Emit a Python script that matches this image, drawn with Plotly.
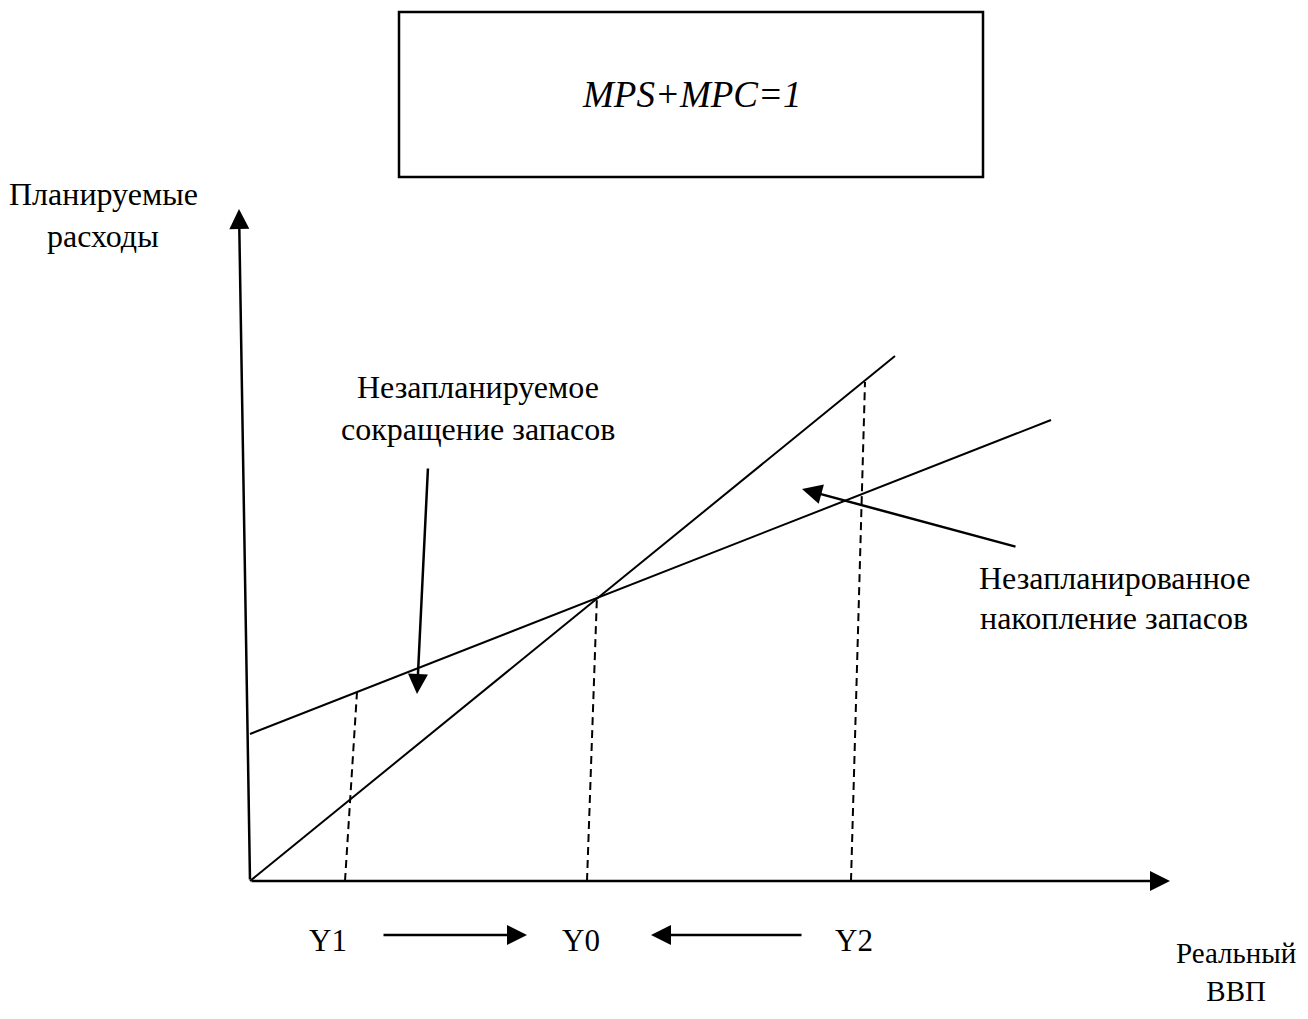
import plotly.graph_objects as go

# ---- diagram data (drawing units = reference pixels, y grows downward) ----
origin = (250, 881)
y_axis_top = (239, 209)
x_axis_end = (1170, 881)

line45_x = [250, 895]
line45_y = [881, 356]

ae_x = [250, 1051]
ae_y = [734, 420]

dash_labels = ["Y1", "Y0", "Y2"]
dash_bottom_x = [345, 587, 851]
dash_top_x = [357, 597, 865]
dash_top_y = [692, 595, 382]

label_x = [328, 581, 854]
label_y = [940, 940, 940]

move_arrows = [((382, 935), (527, 935)), ((803, 935), (651, 935))]
pointer_arrows = [((428, 467), (417, 694)), ((1017, 547), (802, 489))]

box_x = [399, 983]
box_y = [12, 177]
box_text = "MPS+MPC=1"

texts = [
    ("Планируемые", 103, 194),
    ("расходы", 103, 236),
    ("Незапланируемое", 478, 387),
    ("сокращение запасов", 478, 429),
    ("Незапланированное", 1114, 578),
    ("накопление запасов", 1114, 618),
]

x_title = ["Реальный", "ВВП"]
x_title_pos = (1236, 972)

FONT = "Liberation Serif, Times New Roman, serif"
BLACK = "#000000"
PAGE_MARGIN = 8  # default body margin of the html page
PAGE_W, PAGE_H = 1308, 1019

fig = go.Figure()

# 45 degree line and aggregate expenditure line
fig.add_trace(go.Scatter(x=line45_x, y=line45_y, mode="lines",
                         line=dict(color=BLACK, width=2), hoverinfo="skip"))
fig.add_trace(go.Scatter(x=ae_x, y=ae_y, mode="lines",
                         line=dict(color=BLACK, width=2), hoverinfo="skip"))

# dashed verticals
for bx, tx, ty in zip(dash_bottom_x, dash_top_x, dash_top_y):
    fig.add_trace(go.Scatter(x=[bx, tx], y=[origin[1], ty], mode="lines",
                             line=dict(color=BLACK, width=2, dash="8px,5px"),
                             hoverinfo="skip"))

annotations = []

def arrow(tail, tip, width=2.5):
    return dict(x=tip[0], y=tip[1], ax=tail[0], ay=tail[1],
                xref="x", yref="y", axref="x", ayref="y",
                showarrow=True, arrowhead=2, arrowsize=1.6,
                arrowwidth=width, arrowcolor=BLACK, text="", standoff=0)

# axes with arrows
annotations.append(arrow(origin, y_axis_top))
annotations.append(arrow(origin, x_axis_end))
for tail, tip in move_arrows:
    annotations.append(arrow(tail, tip))
for tail, tip in pointer_arrows:
    annotations.append(arrow(tail, tip))

# Y labels
for t, x, y in zip(dash_labels, label_x, label_y):
    annotations.append(dict(x=x, y=y, xref="x", yref="y", text=t, showarrow=False,
                            font=dict(family=FONT, size=31, color=BLACK),
                            xanchor="center", yanchor="middle"))

for t, x, y in texts:
    annotations.append(dict(x=x, y=y, xref="x", yref="y", text=t, showarrow=False,
                            font=dict(family=FONT, size=32, color=BLACK),
                            xanchor="center", yanchor="middle", borderpad=0))

annotations.append(dict(x=x_title_pos[0], y=x_title_pos[1], xref="x", yref="y",
                        text="<br>".join(x_title), showarrow=False, align="center",
                        font=dict(family=FONT, size=29, color=BLACK),
                        xanchor="center", yanchor="middle", borderpad=0))

annotations.append(dict(x=(box_x[0] + box_x[1]) / 2, y=(box_y[0] + box_y[1]) / 2,
                        xref="x", yref="y", text="<i>" + box_text + "</i>",
                        showarrow=False,
                        font=dict(family=FONT, size=37, color=BLACK),
                        xanchor="center", yanchor="middle"))

fig.add_shape(type="rect", xref="x", yref="y",
              x0=box_x[0], x1=box_x[1], y0=box_y[0], y1=box_y[1],
              line=dict(color=BLACK, width=2.5), fillcolor="rgba(0,0,0,0)")

fig.update_layout(
    width=PAGE_W - 2 * PAGE_MARGIN, height=PAGE_H - 2 * PAGE_MARGIN,
    margin=dict(l=0, r=0, t=0, b=0),
    paper_bgcolor="white", plot_bgcolor="white",
    showlegend=False,
    annotations=annotations,
    xaxis=dict(range=[PAGE_MARGIN, PAGE_W - PAGE_MARGIN], visible=False, fixedrange=True),
    yaxis=dict(range=[PAGE_H - PAGE_MARGIN, PAGE_MARGIN], visible=False, fixedrange=True),
)

fig.write_html("out.html", config={"displayModeBar": False})
